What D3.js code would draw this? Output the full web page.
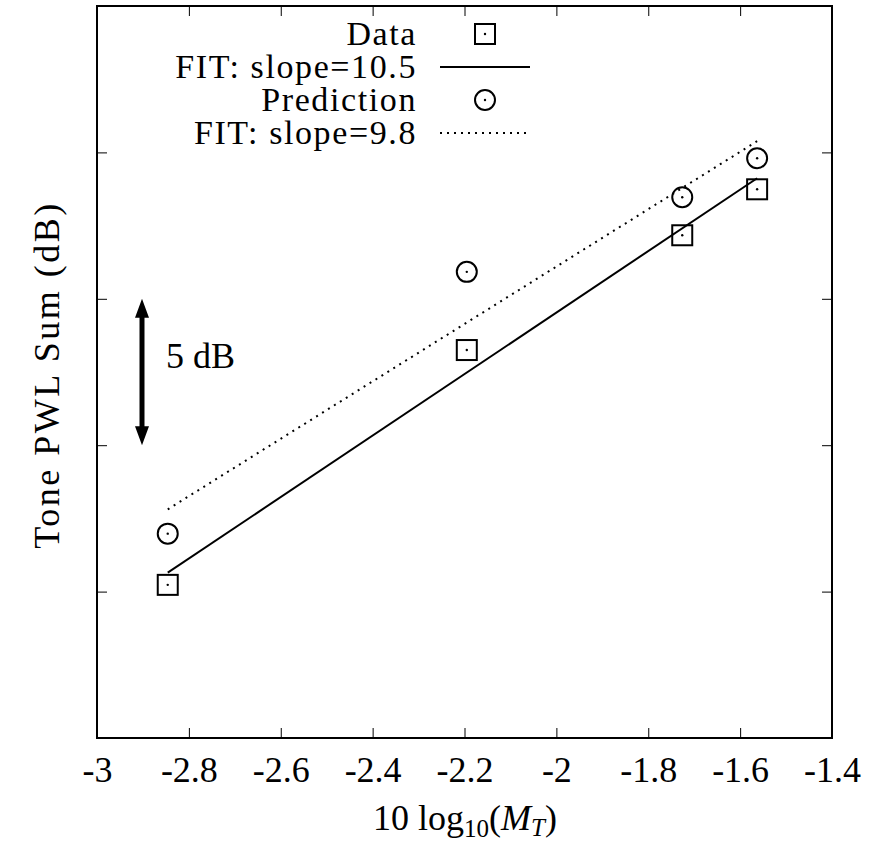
<!DOCTYPE html>
<html>
<head>
<meta charset="utf-8">
<script src="https://cdn.jsdelivr.net/npm/d3@7"></script>
<style>
	body { margin: 0; background: #fff; }
	svg { display: block; }
	.axis path { display: none; }
	.axis line { stroke: #000; stroke-width: 1; }
</style>
</head>
<body>
<svg></svg>
<script>
// values
const mtLog = [-2.846, -2.195, -1.726, -1.563]
const dataPWL = [65.23, 73.25, 77.17, 78.74]
const predPWL = [66.98, 75.92, 78.47, 79.80]
const fitSlopes = [10.5, 9.8]
const fitIntercepts = [95.53, 95.70]
const legendLabels = ['Data', 'FIT: slope=10.5', 'Prediction', 'FIT: slope=9.8']
const xTicks = [-3, -2.8, -2.6, -2.4, -2.2, -2, -1.8, -1.6, -1.4]
const yTicks = [60, 65, 70, 75, 80, 85]

const W = 879, H = 844
const box = {left: 97, right: 832, top: 6, bottom: 738}
const FONT = "'Liberation Serif', 'DejaVu Serif', serif"

const svg = d3.select('svg').attr('width', W).attr('height', H)
	.attr('font-family', FONT)

const x = d3.scaleLinear().domain([-3, -1.4]).range([box.left, box.right])
const y = d3.scaleLinear().domain([60, 85]).range([box.bottom, box.top])

const fmt = d => String(+d.toFixed(1))

// axes, ticks mirrored inside on every side
svg.append('g').attr('class', 'axis')
	.attr('transform', `translate(0,${box.bottom})`)
	.call(d3.axisBottom(x).tickValues(xTicks).tickFormat(fmt).tickSizeInner(-10).tickSizeOuter(0))
	.call(g => g.attr('font-family', FONT).attr('font-size', 36))
	.selectAll('text').attr('dy', null).attr('y', 44).attr('fill', '#000')
svg.append('g').attr('class', 'axis')
	.attr('transform', `translate(0,${box.top})`)
	.call(d3.axisTop(x).tickValues(xTicks).tickFormat('').tickSizeInner(-10).tickSizeOuter(0))
svg.append('g').attr('class', 'axis')
	.attr('transform', `translate(${box.left},0)`)
	.call(d3.axisLeft(y).tickValues(yTicks).tickFormat('').tickSizeInner(-10).tickSizeOuter(0))
svg.append('g').attr('class', 'axis')
	.attr('transform', `translate(${box.right},0)`)
	.call(d3.axisRight(y).tickValues(yTicks).tickFormat('').tickSizeInner(-10).tickSizeOuter(0))

svg.append('rect')
	.attr('x', box.left).attr('y', box.top)
	.attr('width', box.right - box.left).attr('height', box.bottom - box.top)
	.attr('fill', 'none').attr('stroke', '#000').attr('stroke-width', 2)

// axis titles
svg.append('text')
	.attr('font-size', 36)
	.attr('transform', `translate(59,${(box.top + box.bottom) / 2 + 3}) rotate(-90)`)
	.attr('text-anchor', 'middle')
	.attr('letter-spacing', 2.5)
	.text('Tone PWL Sum (dB)')

const xl = svg.append('text')
	.attr('font-size', 36)
	.attr('x', 465).attr('y', 830)
	.attr('text-anchor', 'middle')
xl.append('tspan').text('10 log')
xl.append('tspan').attr('font-size', 25).attr('dy', 7).text('10')
xl.append('tspan').attr('dy', -7).text('(')
xl.append('tspan').attr('font-style', 'italic').text('M')
xl.append('tspan').attr('font-style', 'italic').attr('font-size', 25).attr('dy', 6).text('T')
xl.append('tspan').attr('dy', -6).text(')')

// fit lines over the span of the data
const xExt = d3.extent(mtLog)
const line = d3.line().x(d => x(d[0])).y(d => y(d[1]))
const fitDash = [null, '2,5']
const fitPts = fitSlopes.map((s, i) => xExt.map(v => [v, fitIntercepts[i] + s * v]))
svg.selectAll('path.fit')
	.data(fitPts).enter()
	.append('path')
	.attr('class', 'fit')
	.attr('d', line)
	.attr('fill', 'none')
	.attr('stroke', '#000')
	.attr('stroke-width', 2)
	.attr('stroke-dasharray', (d, i) => fitDash[i])

// markers
function square(g) {
	g.append('rect').attr('x', -10).attr('y', -10).attr('width', 20).attr('height', 20)
		.attr('fill', 'none').attr('stroke', '#000').attr('stroke-width', 2)
	g.append('circle').attr('r', 1.2).attr('fill', '#000')
}
function ring(g) {
	g.append('circle').attr('r', 10)
		.attr('fill', 'none').attr('stroke', '#000').attr('stroke-width', 2)
	g.append('circle').attr('r', 1.2).attr('fill', '#000')
}

svg.selectAll('g.data')
	.data(mtLog.map((v, i) => [v, dataPWL[i]])).enter()
	.append('g').attr('class', 'data')
	.attr('transform', d => `translate(${x(d[0])},${y(d[1])})`)
	.each(function () { square(d3.select(this)) })

svg.selectAll('g.pred')
	.data(mtLog.map((v, i) => [v, predPWL[i]])).enter()
	.append('g').attr('class', 'pred')
	.attr('transform', d => `translate(${x(d[0])},${y(d[1])})`)
	.each(function () { ring(d3.select(this)) })

// 5 dB scale arrow
const arrowX = 142
const arrowTop = y(75), arrowBot = y(70)
svg.append('line')
	.attr('x1', arrowX).attr('x2', arrowX)
	.attr('y1', arrowTop + 14).attr('y2', arrowBot - 14)
	.attr('stroke', '#000').attr('stroke-width', 5)
svg.append('path')
	.attr('d', `M${arrowX},${arrowTop} l-7,19 l14,0 Z M${arrowX},${arrowBot} l-7,-19 l14,0 Z`)
	.attr('fill', '#000')
svg.append('text')
	.attr('font-size', 36)
	.attr('x', 166).attr('y', (arrowTop + arrowBot) / 2 - 4)
	.text('5 dB')

// legend
const key = svg.append('g')
const rowY = i => 34 + i * 33
key.selectAll('text')
	.data(legendLabels).enter()
	.append('text')
	.attr('font-size', 34)
	.attr('x', 417).attr('y', (d, i) => rowY(i) + 11)
	.attr('text-anchor', 'end')
	.attr('letter-spacing', 1.6)
	.text(d => d)
square(key.append('g').attr('transform', `translate(485,${rowY(0)})`))
ring(key.append('g').attr('transform', `translate(485,${rowY(2)})`))
key.append('line').attr('x1', 440).attr('x2', 530).attr('y1', rowY(1)).attr('y2', rowY(1))
	.attr('stroke', '#000').attr('stroke-width', 2)
key.append('line').attr('x1', 440).attr('x2', 530).attr('y1', rowY(3)).attr('y2', rowY(3))
	.attr('stroke', '#000').attr('stroke-width', 2).attr('stroke-dasharray', '2,5')
</script>
</body>
</html>
